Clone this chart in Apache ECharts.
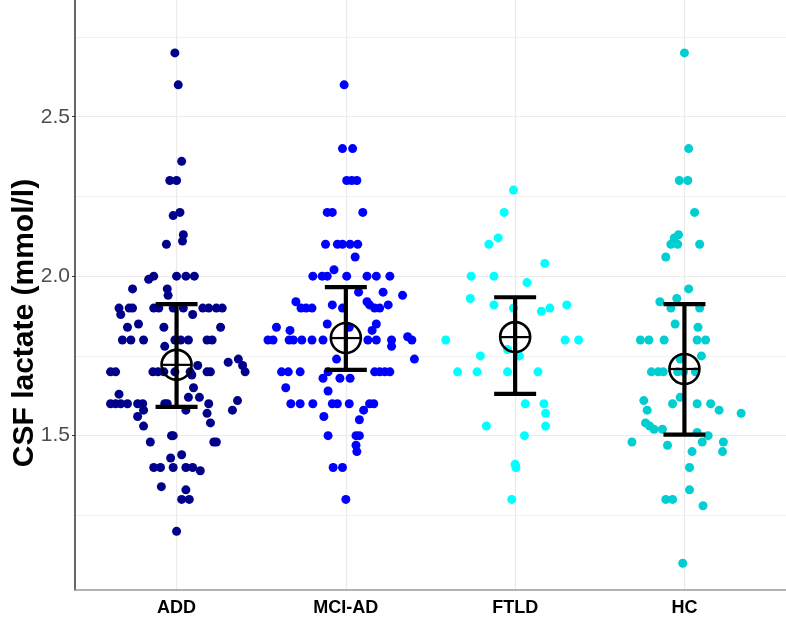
<!DOCTYPE html>
<html>
<head>
<meta charset="utf-8">
<script src="https://cdn.jsdelivr.net/npm/echarts@6/dist/echarts.min.js"></script>
<style>html,body{margin:0;padding:0;background:#fff}#c{width:786px;height:617px}</style>
</head>
<body>
<div id="c"></div>
<script>
// categories
var categories = ['ADD', 'MCI-AD', 'FTLD', 'HC'];
var groupColors = ['#00008B', '#0000FF', '#00FFFF', '#00CED1'];
// y tick labels
var yTickLabels = [1.5, 2.0, 2.5];
var yMinorLines = [1.25, 1.75, 2.25, 2.75];
// points: [horizontal jitter (category units), CSF lactate mmol/l]
var addPoints = [
 [-0.01,2.70],[0.01,2.60],[0.03,2.36],[-0.04,2.30],[0.00,2.30],[-0.02,2.19],[0.02,2.20],[0.04,2.13],[0.035,2.11],[-0.06,2.10],
 [-0.165,1.99],[-0.135,2.00],[0.00,2.00],[0.055,2.00],[0.105,2.00],[-0.055,1.96],[-0.05,1.94],[-0.26,1.96],
 [-0.34,1.90],[-0.33,1.88],[-0.28,1.90],[-0.26,1.90],[-0.135,1.90],[-0.105,1.90],[-0.02,1.90],[0.04,1.90],[0.095,1.88],[0.155,1.90],[0.19,1.90],[0.235,1.90],[0.27,1.90],
 [-0.225,1.85],[-0.29,1.84],[-0.075,1.84],[0.26,1.84],
 [-0.32,1.80],[-0.27,1.80],[-0.195,1.80],[-0.01,1.80],[0.025,1.80],[0.07,1.80],[0.18,1.80],[0.21,1.80],[-0.07,1.78],
 [0.305,1.73],[0.365,1.74],[0.39,1.72],[0.405,1.70],[0.125,1.72],
 [-0.39,1.70],[-0.36,1.70],[-0.14,1.70],[-0.11,1.70],[-0.075,1.70],[-0.01,1.70],[0.08,1.70],[0.18,1.70],[0.20,1.70],
 [0.09,1.69],[0.10,1.65],[0.07,1.62],[0.135,1.62],[-0.34,1.63],
 [-0.39,1.60],[-0.36,1.60],[-0.33,1.60],[-0.29,1.60],[-0.23,1.60],[-0.20,1.60],[-0.195,1.58],[-0.07,1.60],[-0.055,1.60],[0.055,1.58],[0.19,1.60],[0.33,1.58],[0.36,1.61],
 [-0.23,1.56],[-0.195,1.53],[0.18,1.57],[0.20,1.54],
 [-0.155,1.48],[0.22,1.48],[0.235,1.48],[-0.03,1.50],[-0.02,1.50],[-0.035,1.43],[0.03,1.44],
 [-0.135,1.40],[-0.095,1.40],[-0.02,1.40],[0.055,1.40],[0.095,1.40],[0.14,1.39],
 [-0.09,1.34],[0.055,1.33],[0.03,1.30],[0.075,1.30],[0.00,1.20]
];
var mciPoints = [
 [-0.01,2.60],[-0.02,2.40],[0.04,2.40],[0.005,2.30],[0.035,2.30],[0.065,2.30],
 [-0.11,2.20],[-0.08,2.20],[0.10,2.20],
 [-0.12,2.10],[-0.05,2.10],[-0.02,2.10],[0.025,2.10],[0.07,2.10],[0.055,2.06],[-0.07,2.02],
 [-0.195,2.00],[-0.14,2.00],[-0.11,2.00],[0.005,2.00],[0.125,2.00],[0.18,2.00],[0.26,2.00],
 [0.075,1.95],[0.22,1.95],[0.335,1.94],[-0.295,1.92],[0.125,1.92],[0.14,1.91],[0.25,1.91],[-0.08,1.91],
 [-0.265,1.90],[-0.235,1.90],[-0.20,1.90],[-0.02,1.90],[0.17,1.90],[0.20,1.90],
 [-0.41,1.84],[0.02,1.84],[-0.33,1.83],[0.155,1.83],[-0.11,1.85],[0.18,1.85],
 [-0.46,1.80],[-0.43,1.80],[-0.335,1.80],[-0.31,1.80],[-0.26,1.80],[-0.20,1.80],[-0.135,1.80],[0.13,1.80],[0.18,1.80],[0.27,1.80],[0.39,1.80],
 [0.27,1.78],[0.365,1.81],[0.405,1.74],[-0.055,1.74],
 [-0.38,1.70],[-0.34,1.70],[-0.27,1.70],[-0.105,1.70],[0.17,1.70],[0.20,1.70],[0.23,1.70],[0.26,1.70],
 [-0.135,1.68],[-0.035,1.68],[0.025,1.68],[-0.355,1.65],[-0.105,1.64],
 [-0.325,1.60],[-0.27,1.60],[-0.195,1.60],[-0.08,1.60],[-0.05,1.60],[0.02,1.60],[0.14,1.60],[0.165,1.60],
 [0.105,1.58],[-0.13,1.56],[0.08,1.55],
 [-0.105,1.50],[0.06,1.50],[0.08,1.50],[0.06,1.47],[0.065,1.45],
 [-0.075,1.40],[-0.02,1.40],[0.00,1.30]
];
var ftldPoints = [
 [-0.01,2.27],[-0.065,2.20],[-0.10,2.12],[-0.155,2.10],[0.175,2.04],[-0.26,2.00],[-0.125,2.00],[0.07,1.98],
 [-0.265,1.93],[-0.125,1.91],[-0.01,1.90],[0.155,1.89],[0.205,1.90],[0.305,1.91],
 [-0.41,1.80],[0.295,1.80],[0.375,1.80],[-0.045,1.77],[-0.205,1.75],[0.025,1.75],
 [-0.34,1.70],[-0.225,1.70],[-0.045,1.70],[0.135,1.70],
 [0.06,1.60],[0.17,1.60],[0.18,1.57],[-0.17,1.53],[0.18,1.53],[0.055,1.50],
 [0.00,1.41],[0.005,1.40],[-0.02,1.30]
];
var hcPoints = [
 [0.00,2.70],[0.025,2.40],[-0.03,2.30],[0.02,2.30],[0.06,2.20],[-0.035,2.13],[-0.06,2.12],
 [-0.08,2.10],[-0.04,2.10],[0.09,2.10],[-0.11,2.06],[0.025,1.96],[-0.145,1.92],[-0.045,1.93],
 [-0.08,1.90],[0.09,1.90],[-0.055,1.85],[0.08,1.84],
 [-0.26,1.80],[-0.21,1.80],[-0.12,1.80],[0.075,1.80],[0.125,1.80],[0.10,1.75],[-0.025,1.74],
 [-0.195,1.70],[-0.155,1.70],[-0.125,1.70],[-0.04,1.70],[-0.005,1.70],[0.065,1.70],
 [-0.025,1.62],[-0.24,1.61],[-0.07,1.60],[0.075,1.60],[0.155,1.60],[0.205,1.58],[-0.22,1.58],[0.335,1.57],
 [-0.23,1.54],[-0.205,1.53],[-0.18,1.52],[-0.13,1.52],[0.075,1.51],[0.14,1.50],
 [-0.31,1.48],[0.105,1.48],[0.23,1.48],[-0.10,1.47],[0.045,1.45],[0.225,1.45],
 [0.03,1.40],[0.03,1.33],[-0.11,1.30],[-0.07,1.30],[0.11,1.28],[-0.01,1.10]
];
// summary: mean, lower, upper
var means = [1.722, 1.806, 1.809, 1.709];
var lowers = [1.590, 1.706, 1.631, 1.503];
var uppers = [1.9125, 1.966, 1.934, 1.9125];

var groupPoints = [addPoints, mciPoints, ftldPoints, hcPoints];
var capHalf = 0.124;

var series = groupPoints.map(function (pts, gi) {
  return {
    type: 'scatter',
    name: categories[gi],
    symbolSize: 9,
    itemStyle: { color: groupColors[gi], opacity: 1 },
    data: pts.map(function (p) { return [gi + 1 + p[0], p[1]]; }),
    z: 2
  };
});

series.push({
  type: 'custom',
  z: 5,
  data: categories.map(function (c, i) { return [i + 1, means[i], lowers[i], uppers[i]]; }),
  renderItem: function (params, api) {
    var x = api.value(0);
    var m = api.coord([x, api.value(1)]);
    var lo = api.coord([x, api.value(2)]);
    var hi = api.coord([x, api.value(3)]);
    var loL = api.coord([x - capHalf, api.value(2)]);
    var loR = api.coord([x + capHalf, api.value(2)]);
    var hiL = api.coord([x - capHalf, api.value(3)]);
    var hiR = api.coord([x + capHalf, api.value(3)]);
    var st = { stroke: '#000', lineWidth: 4.2, fill: null };
    var r = 15;
    return {
      type: 'group',
      children: [
        { type: 'line', shape: { x1: lo[0], y1: lo[1], x2: hi[0], y2: hi[1] }, style: st },
        { type: 'line', shape: { x1: loL[0], y1: loL[1], x2: loR[0], y2: loR[1] }, style: st },
        { type: 'line', shape: { x1: hiL[0], y1: hiL[1], x2: hiR[0], y2: hiR[1] }, style: st },
        { type: 'circle', shape: { cx: m[0], cy: m[1], r: r }, style: { stroke: '#000', lineWidth: 2.6, fill: null } },
        { type: 'line', shape: { x1: m[0] - r, y1: m[1], x2: m[0] + r, y2: m[1] }, style: { stroke: '#000', lineWidth: 2.2 } }
      ]
    };
  }
});

var chart = echarts.init(document.getElementById('c'), null, { renderer: 'canvas' });
chart.setOption({
  animation: false,
  backgroundColor: '#ffffff',
  grid: { left: 75, right: 0, top: 0, bottom: 25, containLabel: false },
  xAxis: {
    type: 'value', min: 0.4, max: 4.6,
    axisLine: { show: true, lineStyle: { color: '#9a9a9a', width: 1.5 } },
    axisTick: { show: false, customValues: [1, 2, 3, 4] },
    axisLabel: {
      customValues: [1, 2, 3, 4],
      formatter: function (v) { return categories[Math.round(v) - 1]; },
      color: '#000', fontWeight: 'bold', fontSize: 18, fontFamily: 'Liberation Sans, Arial, sans-serif', margin: 9
    },
    splitLine: { show: true, lineStyle: { color: '#ebebeb', width: 1.2 } }
  },
  yAxis: [{
    type: 'value', min: 1.016, max: 2.866,
    axisLine: { show: true, lineStyle: { color: '#333', width: 1.5 } },
    axisTick: { show: true, length: 3, customValues: yTickLabels, lineStyle: { color: '#333' } },
    axisLabel: {
      customValues: yTickLabels,
      formatter: function (v) { return v.toFixed(1); },
      color: '#4d4d4d', fontSize: 21, fontFamily: 'Liberation Sans, Arial, sans-serif', margin: 5
    },
    splitLine: { show: true, lineStyle: { color: '#ebebeb', width: 1.2 } }
  }, {
    type: 'value', min: 1.016, max: 2.866, position: 'left',
    axisLine: { show: false }, axisLabel: { show: false },
    axisTick: { show: false, customValues: yMinorLines },
    splitLine: { show: true, lineStyle: { color: '#f2f2f2', width: 1.2 } }
  }],
  graphic: [{
    type: 'text', x: 25, y: 323, rotation: Math.PI / 2,
    style: { text: 'CSF lactate (mmol/l)', fill: '#000', font: 'bold 30px "Liberation Sans", Arial, sans-serif', textAlign: 'center', textVerticalAlign: 'middle' }
  }],
  series: series
});
</script>
</body>
</html>
